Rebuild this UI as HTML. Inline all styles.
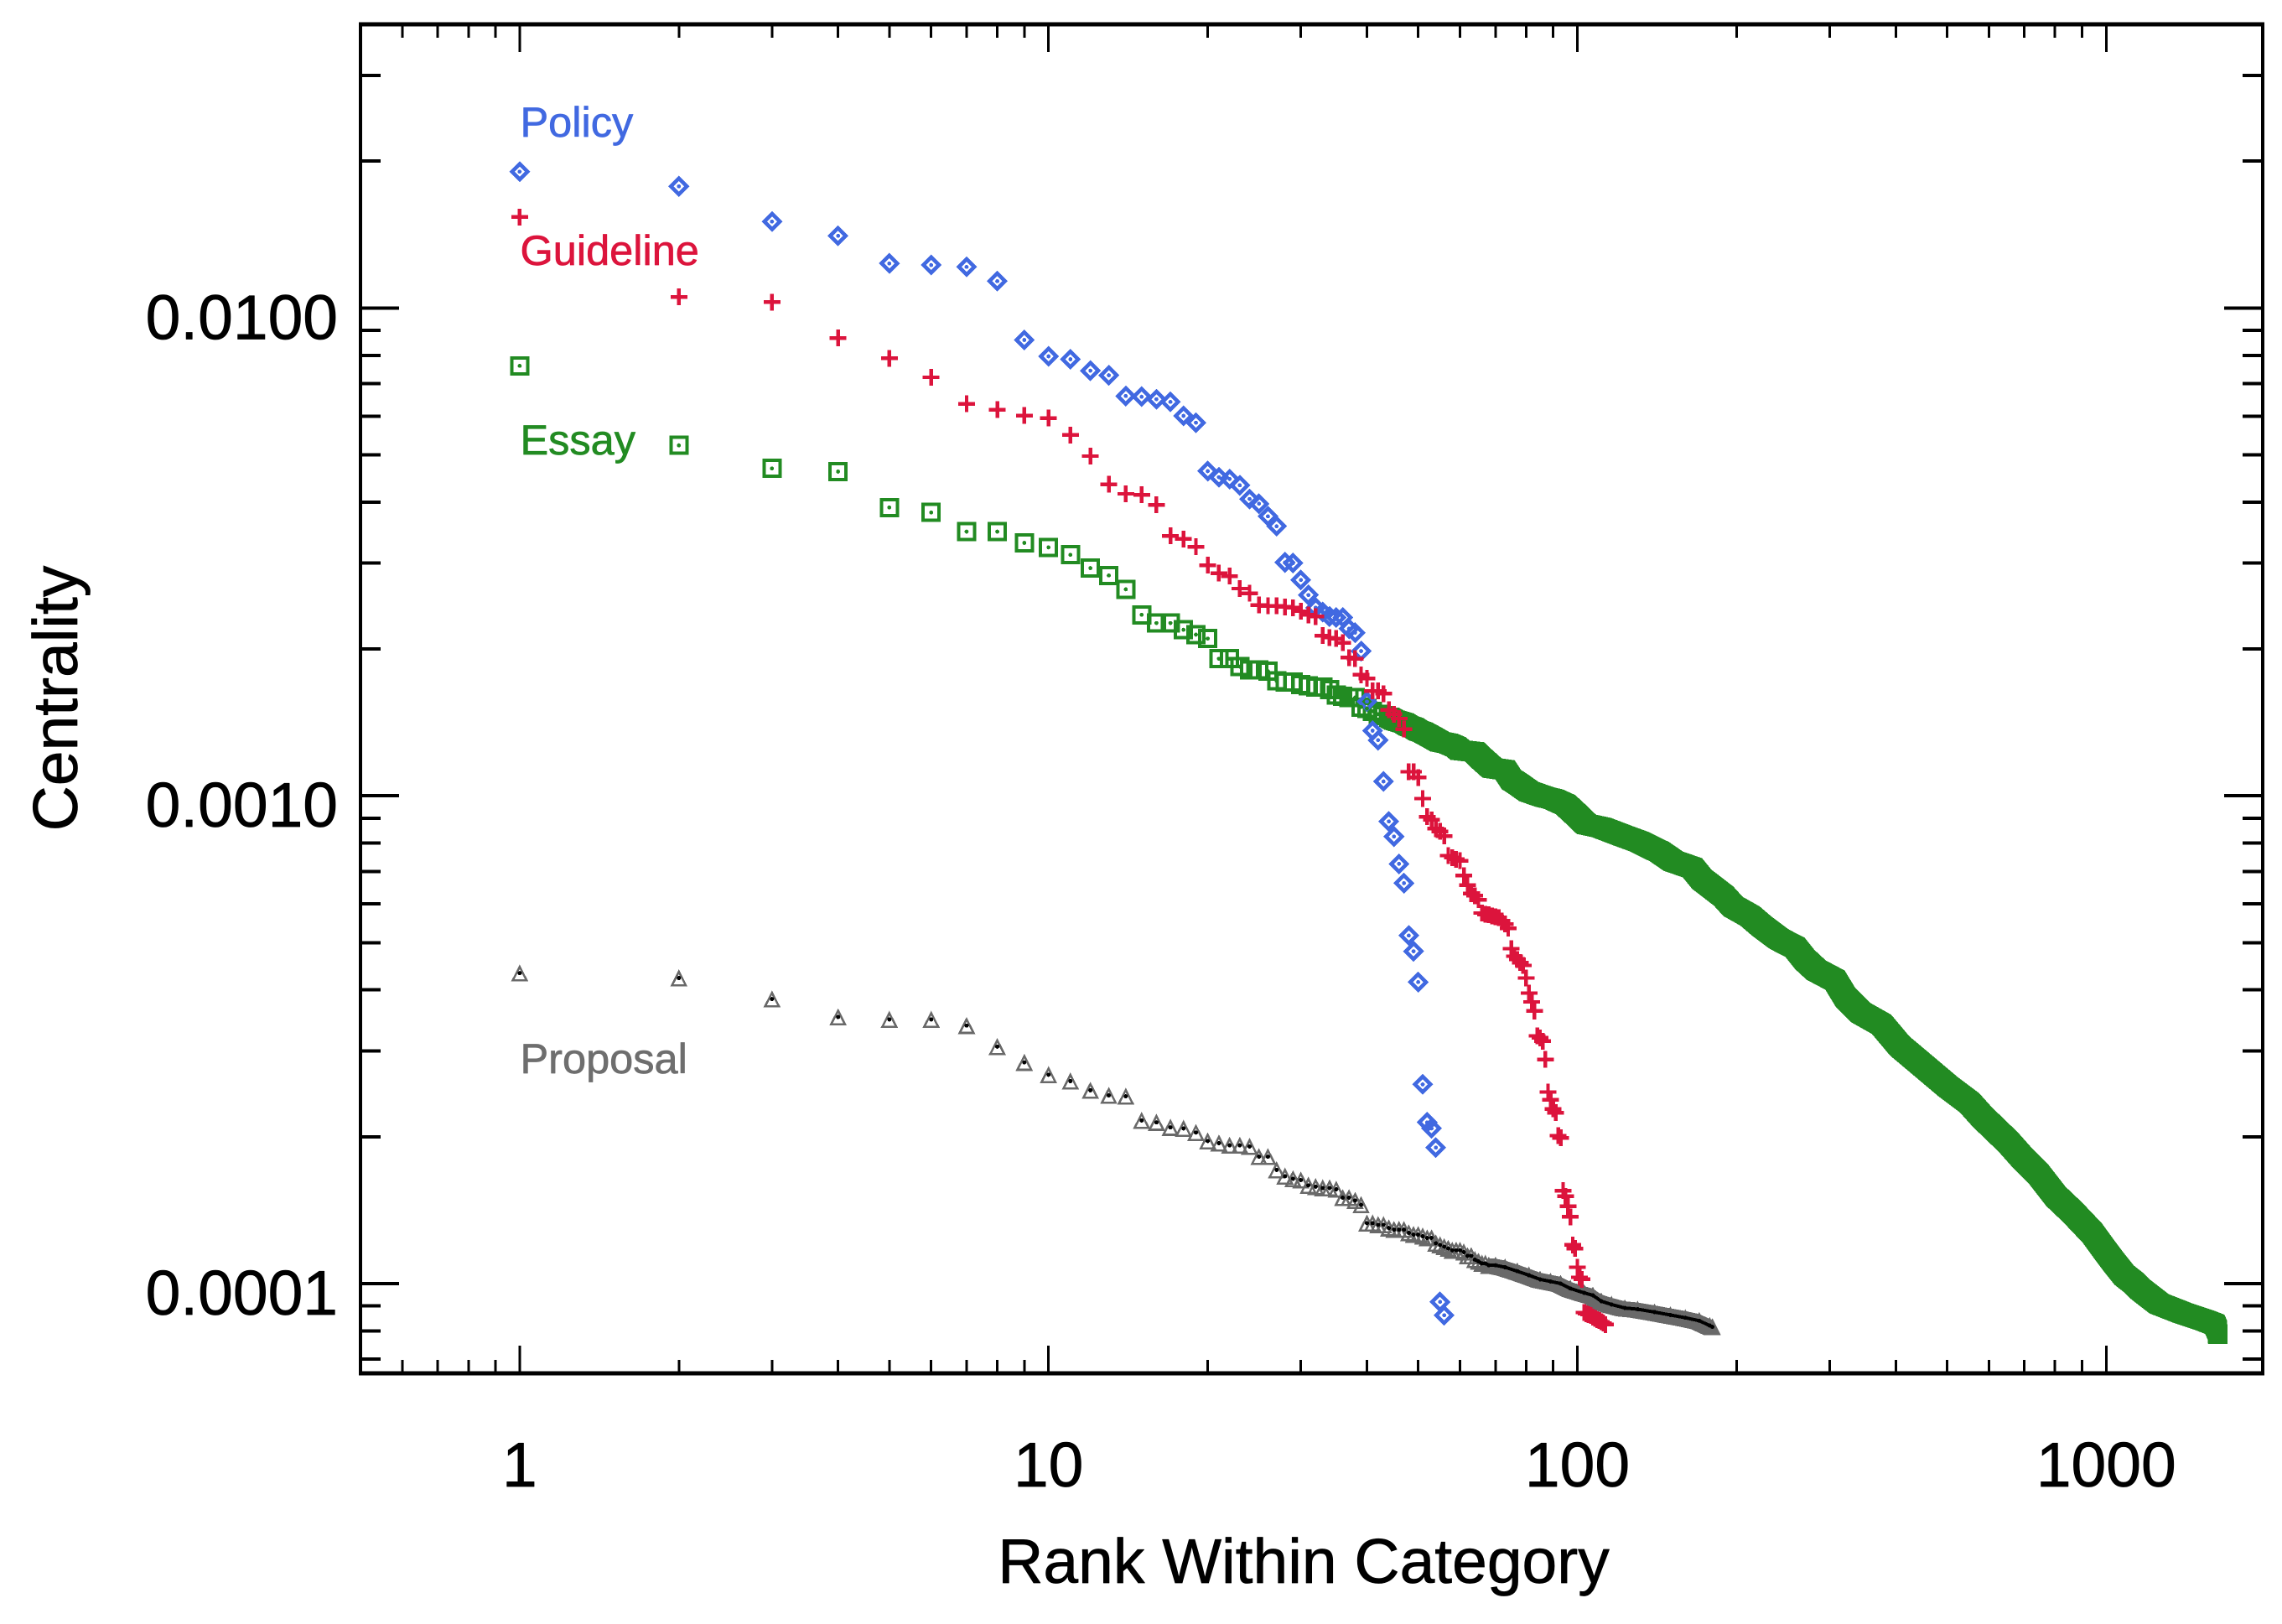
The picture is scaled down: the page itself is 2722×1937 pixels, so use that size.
<!DOCTYPE html>
<html lang="en">
<head>
<meta charset="utf-8">
<title>Centrality by Rank Within Category</title>
<style>
  html, body { margin: 0; padding: 0; background: #ffffff; }
  svg { display: block; }
  text { font-family: "Liberation Sans", Arial, sans-serif; stroke-linejoin: round; }
  #series-layer, #axis-layer line { shape-rendering: crispEdges; }
  #axis-layer text { stroke: #000000; stroke-width: 0.7; }
  .legend-label { stroke-width: 0.7; }
</style>
</head>
<body>
<svg id="chart" xmlns="http://www.w3.org/2000/svg" width="2722" height="1937" viewBox="0 0 2722 1937">
  <rect x="0" y="0" width="2722" height="1937" fill="#ffffff"/>
  <g id="series-layer"></g>
  <g id="axis-layer"></g>
  <text class="legend-label" x="620.5" y="163" font-size="50.5" fill="#4169e1" stroke="#4169e1">Policy</text>
  <text class="legend-label" x="620.5" y="316" font-size="50.5" fill="#dc143c" stroke="#dc143c">Guideline</text>
  <text class="legend-label" x="620.5" y="542" font-size="50.5" fill="#228b22" stroke="#228b22">Essay</text>
  <text class="legend-label" x="620.5" y="1280" font-size="50.5" fill="#6e6e6e" stroke="#6e6e6e">Proposal</text>
  <text x="1555" y="1888" font-size="75" text-anchor="middle" fill="#000000" stroke="#000000" stroke-width="0.7">Rank Within Category</text>
  <text x="92" y="833" font-size="75" text-anchor="middle" fill="#000000" stroke="#000000" stroke-width="0.7" transform="rotate(-90 92 833)">Centrality</text>
</svg>
<script>
// ---------- Axis values ----------
const xMajorTicks = [1, 10, 100, 1000];
const xTickLabels = ["1", "10", "100", "1000"];
const xMinorTicks = [0.6, 0.7, 0.8, 0.9, 2, 3, 4, 5, 6, 7, 8, 9, 20, 30, 40, 50, 60, 70, 80, 90, 200, 300, 400, 500, 600, 700, 800, 900];
const yMajorTicks = [0.01, 0.001, 0.0001];
const yTickLabels = ["0.0100", "0.0010", "0.0001"];
const yMinorTicks = [0.03, 0.02, 0.009, 0.008, 0.007, 0.006, 0.005, 0.004, 0.003, 0.002, 0.0009, 0.0008, 0.0007, 0.0006, 0.0005, 0.0004, 0.0003, 0.0002, 0.00009, 0.00008, 0.00007];
const xDomain = [0.5, 1977];
const yDomain = [0.00006546, 0.03816];

// ---------- Series values (rank = position in the list for Policy and Guideline) ----------
const policyValues = [
  0.01903, 0.01776, 0.01504, 0.01406, 0.01234, 0.01225, 0.01214, 0.01135, 0.00860, 0.00796,
  0.00785, 0.00744, 0.00728, 0.00660, 0.00658, 0.00650, 0.00642, 0.00601, 0.00582, 0.00463,
  0.00450, 0.00446, 0.00433, 0.00406, 0.00397, 0.00374, 0.00357, 0.00301, 0.00300, 0.00277,
  0.00258, 0.00243, 0.00238, 0.00233, 0.00232, 0.00232, 0.00220, 0.00216, 0.00198, 0.00156,
  0.00136, 0.00130, 0.00107, 0.000886, 0.000825, 0.000725, 0.000662, 0.000517, 0.000480, 0.000415,
  0.000256, 0.000214, 0.000208, 0.000190, 0.0000917, 0.0000861
];

const guidelineValues = [
  0.01536, 0.01054, 0.01028, 0.00868, 0.00789, 0.00721, 0.00636, 0.00619, 0.00602, 0.00595,
  0.00549, 0.00497, 0.00435, 0.00416, 0.00414, 0.00395, 0.00341, 0.00336, 0.00324, 0.00297,
  0.00286, 0.00282, 0.00266, 0.00260, 0.00246, 0.00245, 0.00245, 0.00244, 0.00243, 0.00239,
  0.00235, 0.00233, 0.00213, 0.00211, 0.00210, 0.00206, 0.00192, 0.00191, 0.00177, 0.00174,
  0.00164, 0.00164, 0.00162, 0.00150, 0.00147, 0.00144, 0.00137, 0.00112, 0.00112, 0.00109,
  0.000987, 0.000906, 0.000893, 0.000856, 0.000845, 0.000827, 0.000754, 0.000747, 0.000741, 0.000736,
  0.000686, 0.000656, 0.000630, 0.000624, 0.000612, 0.000575, 0.000571, 0.000570, 0.000567, 0.000565,
  0.000563, 0.000554, 0.000546, 0.000535, 0.000486, 0.000469, 0.000462, 0.000455, 0.000449, 0.000423,
  0.000394, 0.000378, 0.000362, 0.000322, 0.000319, 0.000314, 0.000288, 0.000247, 0.000238, 0.000228,
  0.000224, 0.000201, 0.000199, 0.000155, 0.000151, 0.000144, 0.000137, 0.000120, 0.000118, 0.000108,
  0.000103, 0.000102, 0.0000872, 0.0000867, 0.0000864, 0.0000860, 0.0000853, 0.0000848, 0.0000843, 0.0000840,
  0.0000835, 0.0000830, 0.0000824
];

const essayRanks = [
  1, 2, 3, 4, 5, 6, 7, 8, 9, 10, 11, 12, 13, 14, 15, 16, 17, 18, 19, 20,
  21, 22, 23, 24, 25, 26, 27, 28, 29, 30, 31, 32, 33, 34, 35, 36, 37, 38, 39, 40,
  41, 42, 43, 44, 45, 46, 47, 48, 49, 50, 51, 53, 55, 57, 59, 60, 64, 66, 69, 73,
  75, 78, 81, 87, 90, 95, 99, 104, 111, 122, 131, 143, 152, 165, 172, 182, 189, 197, 212, 223,
  241, 258, 269, 283, 307, 321, 344, 376, 407, 445, 503, 551, 582, 611, 653, 694, 747, 803, 864, 941,
  1000, 1031, 1082, 1129, 1164, 1259, 1396, 1538, 1605, 1623, 1625
];
const essayValues = [
  0.00761, 0.00523, 0.00469, 0.00462, 0.00390, 0.00381, 0.00348, 0.00348, 0.00330, 0.00323,
  0.00312, 0.00293, 0.00283, 0.00265, 0.00235, 0.00226, 0.00226, 0.00219, 0.00214, 0.00210,
  0.00191, 0.00191, 0.00184, 0.00181, 0.00181, 0.00180, 0.00172, 0.00171, 0.00171, 0.00169,
  0.00168, 0.00167, 0.00167, 0.00165, 0.00161, 0.00160, 0.00159, 0.00159, 0.00152, 0.00151,
  0.00149, 0.00147, 0.00146, 0.00145, 0.00143, 0.00142, 0.00141, 0.00139, 0.00138, 0.00136,
  0.00135, 0.00132, 0.00129, 0.00128, 0.00126, 0.00124, 0.00123, 0.00119, 0.00114, 0.00113,
  0.00108, 0.00105, 0.00102, 0.000993, 0.000985, 0.000959, 0.000920, 0.000874, 0.000861, 0.000828,
  0.000805, 0.000768, 0.000734, 0.000712, 0.000674, 0.000643, 0.000623, 0.000593, 0.000567, 0.000541,
  0.000508, 0.000489, 0.000462, 0.000439, 0.000419, 0.000387, 0.000359, 0.000340, 0.000307, 0.000283,
  0.000253, 0.000235, 0.000220, 0.000209, 0.000195, 0.000181, 0.000167, 0.000151, 0.000140, 0.000127,
  0.000116, 0.000111, 0.000104, 0.0001003, 0.0000971, 0.0000909, 0.0000870, 0.0000840, 0.0000825, 0.0000802,
  0.0000787
];

const proposalRanks = [
  1, 2, 3, 4, 5, 6, 7, 8, 9, 10, 11, 12, 13, 14, 15, 16, 17, 18, 19, 20,
  21, 22, 23, 24, 25, 26, 27, 28, 29, 30, 31, 32, 33, 34, 35, 36, 37, 38, 39, 40,
  41, 42, 43, 44, 45, 46, 47, 48, 49, 50, 51, 52, 53, 54, 55, 56, 57, 58, 59, 60,
  61, 62, 63, 64, 65, 66, 67, 68, 70, 73, 77, 81, 85, 89, 93, 97, 103, 107, 111, 116,
  123, 130, 140, 150, 160, 170, 178, 180
];
const proposalValues = [
  0.000433, 0.000423, 0.000383, 0.000352, 0.000348, 0.000348, 0.000338, 0.000306, 0.000284, 0.000268,
  0.000260, 0.000249, 0.000243, 0.000242, 0.000216, 0.000214, 0.000209, 0.000208, 0.000204, 0.000196,
  0.000194, 0.000192, 0.000192, 0.000191, 0.000182, 0.000182, 0.000171, 0.000166, 0.000164, 0.000163,
  0.000159, 0.000158, 0.000157, 0.000157, 0.000156, 0.000150, 0.000150, 0.000148, 0.000145, 0.000133,
  0.000133, 0.000132, 0.000132, 0.000130, 0.000129, 0.000129, 0.000129, 0.000127, 0.000126, 0.000126,
  0.000125, 0.000124, 0.000124, 0.000121, 0.000120, 0.000119, 0.000118, 0.000117, 0.000117, 0.000117,
  0.000116, 0.000114, 0.000114, 0.000112, 0.000111, 0.000110, 0.000110, 0.000109, 0.000109, 0.000108,
  0.000106, 0.000104, 0.000102, 0.000101, 0.000100, 0.0000977, 0.0000957, 0.0000946, 0.0000920, 0.0000906,
  0.0000891, 0.0000886, 0.0000874, 0.0000862, 0.0000851, 0.0000839, 0.0000820, 0.0000815
];

// ---------- Axis functions ----------
const NS = "http://www.w3.org/2000/svg";
const plotLeft = 430, plotRight = 2699, plotTop = 29, plotBottom = 1638;
const xK = (plotRight - plotLeft) / (Math.log10(xDomain[1]) - Math.log10(xDomain[0]));
const yK = (plotBottom - plotTop) / (Math.log10(yDomain[1]) - Math.log10(yDomain[0]));
function xScale(rank) { return plotLeft + (Math.log10(rank) - Math.log10(xDomain[0])) * xK; }
function yScale(value) { return plotTop + (Math.log10(yDomain[1]) - Math.log10(value)) * yK; }

function addEl(parent, tag, name) {
  const el = document.createElementNS(NS, tag);
  
  
  parent.appendChild(el);
  return el;
}
function addGroup(parent, name) { return addEl(parent, 'g', name); }
function fmt(n) { return n.toFixed(2); }

const seriesLayer = document.getElementById('series-layer');
const axisLayer = document.getElementById('axis-layer');

// ---------- Marker shapes ----------
function diamondPath(x, y) { const h = 9.3; return `M${fmt(x)} ${fmt(y - h)}L${fmt(x + h)} ${fmt(y)}L${fmt(x)} ${fmt(y + h)}L${fmt(x - h)} ${fmt(y)}Z`; }
function squarePath(x, y) { const h = 9.5; return `M${fmt(x - h)} ${fmt(y - h)}H${fmt(x + h)}V${fmt(y + h)}H${fmt(x - h)}Z`; }
function plusPath(x, y) { const h = 10; return `M${fmt(x - h)} ${fmt(y)}H${fmt(x + h)}M${fmt(x)} ${fmt(y - h)}V${fmt(y + h)}`; }
function trianglePath(x, y) { return `M${fmt(x)} ${fmt(y - 7.5)}L${fmt(x + 8.3)} ${fmt(y + 8.8)}L${fmt(x - 8.3)} ${fmt(y + 8.8)}Z`; }

function drawMarkers(group, name, ranks, values, pathFn, color, width) {
  ranks.forEach(function (rank, i) {
    const mark = addEl(group, 'path', name + '-point-' + rank);
    mark.setAttribute('d', pathFn(xScale(rank), yScale(values[i])));
    mark.setAttribute('fill', 'none');
    mark.setAttribute('stroke', color);
    mark.setAttribute('stroke-width', width);
  });
}
function drawDots(group, name, ranks, values, color, radius) {
  ranks.forEach(function (rank, i) {
    const dot = addEl(group, 'circle', name + '-dot-' + rank);
    dot.setAttribute('cx', fmt(xScale(rank)));
    dot.setAttribute('cy', fmt(yScale(values[i])));
    dot.setAttribute('r', radius);
    dot.setAttribute('fill', color);
  });
}

function indexRanks(values) { return values.map(function (v, i) { return i + 1; }); }
const policyRanks = indexRanks(policyValues);
const guidelineRanks = indexRanks(guidelineValues);

// ---------- Proposal ----------
const proposalGroup = addGroup(seriesLayer, 'proposal-series');
proposalRanks.forEach(function (rank, i) {
  if (rank < 68 || i === proposalRanks.length - 1) return;
  const x0 = xScale(rank), y0 = yScale(proposalValues[i]);
  const x1 = xScale(proposalRanks[i + 1]), y1 = yScale(proposalValues[i + 1]);
  const band = addEl(proposalGroup, 'polygon', 'proposal-band-' + rank);
  band.setAttribute('points', [
    [x0, y0 - 8], [x1, y1 - 8], [x1 + 10, y1 + 10], [x1 - 10, y1 + 10], [x0 - 10, y0 + 10]
  ].map(function (p) { return fmt(p[0]) + ',' + fmt(p[1]); }).join(' '));
  band.setAttribute('fill', '#696969');
});
drawMarkers(proposalGroup, 'proposal', proposalRanks, proposalValues, trianglePath, '#696969', 2.6);
drawDots(proposalGroup, 'proposal', proposalRanks, proposalValues, '#000000', 2.5);
const proposalLine = addEl(proposalGroup, 'polyline', 'proposal-center-line');
proposalLine.setAttribute('points', proposalRanks.map(function (rank, i) {
  return fmt(xScale(rank)) + ',' + fmt(yScale(proposalValues[i]));
}).filter(function (p, i) { return proposalRanks[i] >= 64; }).join(' '));
proposalLine.setAttribute('fill', 'none');
proposalLine.setAttribute('stroke', '#000000');
proposalLine.setAttribute('stroke-width', '4');

// ---------- Essay ----------
const essayGroup = addGroup(seriesLayer, 'essay-series');
const essayHalf = 11.5;
essayRanks.forEach(function (rank, i) {
  if (rank < 44 || i === essayRanks.length - 1) return;
  const x0 = xScale(rank), y0 = yScale(essayValues[i]);
  const x1 = xScale(essayRanks[i + 1]), y1 = yScale(essayValues[i + 1]);
  const band = addEl(essayGroup, 'polygon', 'essay-band-' + rank);
  band.setAttribute('points', [
    [x0 - essayHalf, y0 - essayHalf], [x0 + essayHalf, y0 - essayHalf], [x1 + essayHalf, y1 - essayHalf],
    [x1 + essayHalf, y1 + essayHalf], [x1 - essayHalf, y1 + essayHalf], [x0 - essayHalf, y0 + essayHalf]
  ].map(function (p) { return fmt(p[0]) + ',' + fmt(p[1]); }).join(' '));
  band.setAttribute('fill', '#228b22');
});
drawMarkers(essayGroup, 'essay', essayRanks, essayValues, squarePath, '#228b22', 4);

// ---------- Policy ----------
const policyGroup = addGroup(seriesLayer, 'policy-series');
drawMarkers(policyGroup, 'policy', policyRanks, policyValues, diamondPath, '#4169e1', 4.6);
drawDots(policyGroup, 'policy', policyRanks, policyValues, '#4169e1', 2.4);
const essayDotGroup = addGroup(seriesLayer, 'essay-dots');
drawDots(essayDotGroup, 'essay', essayRanks, essayValues, '#228b22', 2.4);

// ---------- Guideline ----------
const guidelineGroup = addGroup(seriesLayer, 'guideline-series');
drawMarkers(guidelineGroup, 'guideline', guidelineRanks, guidelineValues, plusPath, '#dc143c', 4.4);

// ---------- Axes ----------
function addTick(name, x1, y1, x2, y2, width) {
  const tick = addEl(axisLayer, 'line', name);
  tick.setAttribute('x1', fmt(x1));
  tick.setAttribute('y1', fmt(y1));
  tick.setAttribute('x2', fmt(x2));
  tick.setAttribute('y2', fmt(y2));
  tick.setAttribute('stroke', '#000000');
  tick.setAttribute('stroke-width', width);
}
xMinorTicks.forEach(function (t) {
  addTick('x-minor-tick-bottom', xScale(t), plotBottom, xScale(t), plotBottom - 16, 3);
  addTick('x-minor-tick-top', xScale(t), plotTop, xScale(t), plotTop + 16, 3);
});
xMajorTicks.forEach(function (t, i) {
  addTick('x-major-tick-bottom', xScale(t), plotBottom, xScale(t), plotBottom - 33, 3);
  addTick('x-major-tick-top', xScale(t), plotTop, xScale(t), plotTop + 33, 3);
  const label = addEl(axisLayer, 'text', 'x-tick-label');
  label.setAttribute('x', fmt(xScale(t)));
  label.setAttribute('y', '1773');
  label.setAttribute('font-size', '75');
  label.setAttribute('text-anchor', 'middle');
  label.textContent = xTickLabels[i];
});
yMinorTicks.forEach(function (t) {
  addTick('y-minor-tick-left', plotLeft, yScale(t), plotLeft + 24, yScale(t), 4);
  addTick('y-minor-tick-right', plotRight, yScale(t), plotRight - 24, yScale(t), 4);
});
yMajorTicks.forEach(function (t, i) {
  addTick('y-major-tick-left', plotLeft, yScale(t), plotLeft + 46, yScale(t), 4);
  addTick('y-major-tick-right', plotRight, yScale(t), plotRight - 46, yScale(t), 4);
  const label = addEl(axisLayer, 'text', 'y-tick-label');
  label.setAttribute('x', '403');
  label.setAttribute('y', fmt(yScale(t) + 37));
  label.setAttribute('font-size', '75');
  label.setAttribute('text-anchor', 'end');
  label.textContent = yTickLabels[i];
});
addTick('x-axis-bottom', plotLeft - 2, plotBottom, plotRight + 2, plotBottom, 5);
addTick('x-axis-top', plotLeft - 2, plotTop, plotRight + 2, plotTop, 5);
addTick('y-axis-left', plotLeft, plotTop, plotLeft, plotBottom, 4);
addTick('y-axis-right', plotRight, plotTop, plotRight, plotBottom, 4);
</script>
</body>
</html>
